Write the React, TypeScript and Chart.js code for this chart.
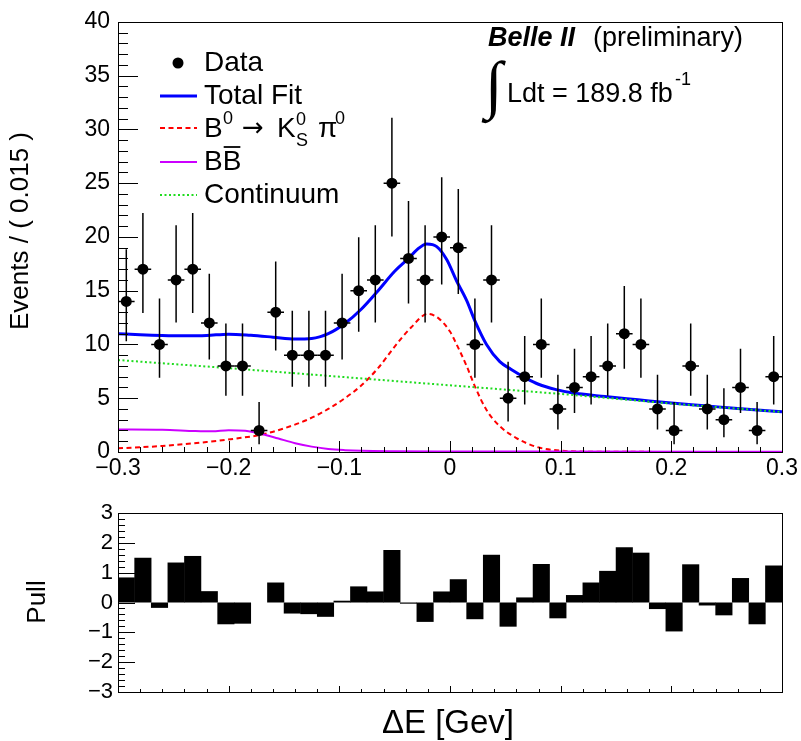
import React, { useEffect, useRef } from 'react';
import { Chart, registerables } from 'chart.js';

Chart.register(...registerables);

const FONT = "'Liberation Sans', Arial, Helvetica, sans-serif";

// ΔE bin centres [GeV], bin width 0.015
const binCenters = [
  -0.2925, -0.2775, -0.2625, -0.2475, -0.2325, -0.2175, -0.2025, -0.1875, -0.1725, -0.1575,
  -0.1425, -0.1275, -0.1125, -0.0975, -0.0825, -0.0675, -0.0525, -0.0375, -0.0225, -0.0075,
  0.0075, 0.0225, 0.0375, 0.0525, 0.0675, 0.0825, 0.0975, 0.1125, 0.1275, 0.1425,
  0.1575, 0.1725, 0.1875, 0.2025, 0.2175, 0.2325, 0.2475, 0.2625, 0.2775, 0.2925,
];
const BIN_WIDTH = 0.015;

// Events per bin
const dataCounts = [
  14, 17, 10, 16, 17, 12, 8, 8, 2, 13,
  9, 9, 9, 12, 15, 16, 25, 18, 16, 20,
  19, 10, 16, 5, 7, 10, 4, 6, 7, 8,
  11, 10, 4, 2, 8, 4, 3, 6, 2, 7,
];

// Pull per bin (null: outside the ±3 window)
const pullValues = [
  0.84, 1.5, -0.18, 1.34, 1.56, 0.38, -0.73, -0.71, null, 0.67,
  -0.37, -0.39, -0.48, 0.06, 0.54, 0.37, 1.76, -0.04, -0.65, 0.37,
  0.78, -0.56, 1.6, -0.81, 0.17, 1.29, -0.53, 0.25, 0.67, 1.06,
  1.85, 1.67, -0.22, -0.97, 1.28, -0.1, -0.43, 0.82, -0.73, 1.24,
];

// Fit components, sampled along ΔE
const totalFitX = [
  -0.3, -0.28, -0.26, -0.24, -0.22, -0.2, -0.18, -0.16, -0.14, -0.125, -0.11, -0.095,
  -0.08, -0.065, -0.05, -0.0375, -0.03, -0.021, -0.012, -0.003, 0.006, 0.015, 0.0225,
  0.033, 0.045, 0.055, 0.069, 0.08, 0.096, 0.11, 0.14, 0.17, 0.2, 0.23, 0.26, 0.3,
];
const totalFitY = [
  11.0, 10.9, 10.83, 10.8, 10.83, 10.96, 10.85, 10.68, 10.5, 10.55, 11.0, 11.95,
  13.3, 15.0, 16.8, 18.0, 18.8, 19.35, 19.1, 17.9, 15.9, 14.1, 12.2,
  10.0, 8.4, 7.7, 6.85, 6.3, 5.8, 5.5, 5.15, 4.85, 4.55, 4.3, 4.04, 3.75,
];

const signalX = [
  -0.3, -0.26, -0.22, -0.19, -0.17, -0.15, -0.13, -0.11, -0.095, -0.08, -0.065, -0.05, -0.035,
  -0.02, -0.01, 0, 0.006, 0.015, 0.0225, 0.033, 0.045, 0.06, 0.078, 0.1, 0.13, 0.3,
];
const signalY = [
  0.34, 0.56, 0.93, 1.3, 1.62, 2.2, 2.95, 4.0, 5.0, 6.2, 7.8, 9.8, 11.6,
  12.85, 12.4, 11.2, 10.0, 8.0, 6.1, 3.9, 2.4, 1.3, 0.48, 0.12, 0.03, 0.0,
];

const bbX = [
  -0.3, -0.26, -0.23, -0.215, -0.2, -0.185, -0.17, -0.155, -0.14, -0.125, -0.11, -0.095,
  -0.08, -0.05, 0, 0.1, 0.3,
];
const bbY = [
  2.1, 2.07, 1.95, 1.92, 2.03, 1.97, 1.68, 1.25, 0.82, 0.5, 0.28, 0.17,
  0.11, 0.07, 0.05, 0.04, 0.03,
];

const continuumX = [-0.3, -0.2, -0.1, 0, 0.1, 0.2, 0.3];
const continuumY = [8.55, 7.8, 7.0, 6.2, 5.4, 4.5, 3.72];

const BLUE = '#0000ff';
const RED = '#ff0000';
const VIOLET = '#cc00ff';
const GREEN = '#1fdc1f';

const toXY = (xs: number[], ys: (number | null)[]) => xs.map((x, i) => ({ x, y: ys[i] }));

// 68.3% Poisson interval (Garwood) in Gehrels' approximation
const poissonLow = (n: number) =>
  n <= 0 ? 0 : n * Math.pow(1 - 1 / (9 * n) - 1 / (3 * Math.sqrt(n)), 3);
const poissonHigh = (n: number) => n + Math.sqrt(n + 0.75) + 1;

const signedLabel = (digits: number) => (value: number | string) => {
  const v = Number(value);
  if (Math.abs(v) < 1e-9) return '0';
  const s = Math.abs(v).toFixed(digits);
  return v < 0 ? '\u2212' + s : s;
};

const errorBarPlugin = {
  id: 'poissonErrors',
  beforeDatasetDraw(chart: any, args: any) {
    if (chart.data.datasets[args.index].label !== 'Data') return;
    const { ctx, chartArea, scales } = chart;
    const xs = scales.x;
    const ys = scales.y;
    ctx.save();
    ctx.beginPath();
    ctx.rect(chartArea.left, chartArea.top, chartArea.right - chartArea.left, chartArea.bottom - chartArea.top);
    ctx.clip();
    ctx.strokeStyle = '#000';
    ctx.lineWidth = 1.5;
    binCenters.forEach((c, i) => {
      const n = dataCounts[i];
      const px = xs.getPixelForValue(c);
      const py = ys.getPixelForValue(n);
      ctx.beginPath();
      ctx.moveTo(px, ys.getPixelForValue(poissonLow(n)));
      ctx.lineTo(px, ys.getPixelForValue(poissonHigh(n)));
      ctx.moveTo(xs.getPixelForValue(c - BIN_WIDTH / 2), py);
      ctx.lineTo(xs.getPixelForValue(c + BIN_WIDTH / 2), py);
      ctx.stroke();
    });
    ctx.restore();
  },
};

type TickCfg = {
  yMin: number; ySteps: number; yStep: number; yMajorEvery: number; yMajorLen: number; yMinorLen: number;
  xMin: number; xSteps: number; xStep: number; xMajorEvery: number; xMajorLen: number; xMinorLen: number;
};

// frame box with ticks pointing into the plotting area
const makeFramePlugin = (cfg: TickCfg) => ({
  id: 'innerFrame',
  afterDatasetsDraw(chart: any) {
    const { ctx, chartArea, scales } = chart;
    const { left, right, top, bottom } = chartArea;
    ctx.save();
    ctx.strokeStyle = '#000';
    ctx.lineWidth = 1;
    ctx.beginPath();
    for (let k = 0; k <= cfg.ySteps; k++) {
      const y = Math.round(scales.y.getPixelForValue(cfg.yMin + k * cfg.yStep)) + 0.5;
      const len = k % cfg.yMajorEvery === 0 ? cfg.yMajorLen : cfg.yMinorLen;
      ctx.moveTo(left, y);
      ctx.lineTo(left + len, y);
    }
    for (let k = 0; k <= cfg.xSteps; k++) {
      const x = Math.round(scales.x.getPixelForValue(cfg.xMin + k * cfg.xStep)) + 0.5;
      const len = k % cfg.xMajorEvery === 0 ? cfg.xMajorLen : cfg.xMinorLen;
      ctx.moveTo(x, bottom);
      ctx.lineTo(x, bottom - len);
    }
    ctx.stroke();
    ctx.strokeRect(Math.round(left) + 0.5, Math.round(top) + 0.5, Math.round(right - left), Math.round(bottom - top));
    ctx.restore();
  },
});

const topTextPlugin = {
  id: 'topText',
  afterDraw(chart: any) {
    const ctx: CanvasRenderingContext2D = chart.ctx;
    ctx.save();
    ctx.fillStyle = '#000';
    ctx.textBaseline = 'alphabetic';
    ctx.textAlign = 'left';

    // axis title
    ctx.save();
    ctx.translate(21, 231);
    ctx.rotate(-Math.PI / 2);
    ctx.textAlign = 'center';
    ctx.textBaseline = 'middle';
    ctx.font = `26px ${FONT}`;
    ctx.fillText('Events / ( 0.015 )', 0, 0);
    ctx.restore();

    // legend
    const tx = 204;
    const lx0 = 160;
    const lx1 = 197;
    const big = `28px ${FONT}`;
    const small = `18px ${FONT}`;
    ctx.font = big;

    ctx.beginPath();
    ctx.arc(178, 63, 5.5, 0, Math.PI * 2);
    ctx.fill();
    ctx.fillText('Data', tx, 71);

    const legendLine = (y: number, color: string, width: number, dash: number[]) => {
      ctx.save();
      ctx.strokeStyle = color;
      ctx.lineWidth = width;
      ctx.setLineDash(dash);
      ctx.beginPath();
      ctx.moveTo(lx0, y);
      ctx.lineTo(lx1, y);
      ctx.stroke();
      ctx.restore();
    };

    legendLine(96, BLUE, 3, []);
    ctx.fillText('Total Fit', tx, 104);

    legendLine(128, RED, 2, [5, 3.5]);
    ctx.fillText('B', tx, 137);
    ctx.font = small;
    ctx.fillText('0', tx + 19, 124);
    ctx.font = `26px 'DejaVu Sans', ${FONT}`;
    ctx.fillText('\u2192', tx + 38, 136);
    ctx.font = big;
    ctx.fillText('K', tx + 73, 137);
    ctx.font = small;
    ctx.fillText('0', tx + 92, 125);
    ctx.fillText('S', tx + 92, 146);
    ctx.font = big;
    ctx.fillText('\u03c0', tx + 114, 137);
    ctx.font = small;
    ctx.fillText('0', tx + 131, 124);
    ctx.font = big;

    legendLine(162, VIOLET, 2, []);
    ctx.fillText('B', tx, 170);
    const bw = ctx.measureText('B').width;
    ctx.fillText('B', tx + bw, 170);
    ctx.save();
    ctx.lineWidth = 1.8;
    ctx.strokeStyle = '#000';
    ctx.beginPath();
    ctx.moveTo(tx + bw + 1, 147);
    ctx.lineTo(tx + 2 * bw - 1, 147);
    ctx.stroke();
    ctx.restore();

    legendLine(195, GREEN, 2, [2, 2.5]);
    ctx.fillText('Continuum', tx, 203);

    // experiment label
    ctx.font = `italic bold 27px ${FONT}`;
    ctx.fillText('Belle II', 488, 46);
    ctx.font = `27px ${FONT}`;
    ctx.fillText('(preliminary)', 593, 46);

    ctx.font = `64px 'Liberation Serif', serif`;
    ctx.fillText('\u222b', 485, 106);
    ctx.font = `27px ${FONT}`;
    const lum = 'Ldt = 189.8 fb';
    ctx.fillText(lum, 507, 102);
    const lw = ctx.measureText(lum).width;
    ctx.font = small;
    ctx.fillText('-1', 507 + lw + 2, 85);

    ctx.restore();
  },
};

const bottomTextPlugin = {
  id: 'bottomText',
  afterDraw(chart: any) {
    const ctx: CanvasRenderingContext2D = chart.ctx;
    ctx.save();
    ctx.fillStyle = '#000';
    ctx.save();
    ctx.translate(38, 122);
    ctx.rotate(-Math.PI / 2);
    ctx.textAlign = 'center';
    ctx.textBaseline = 'middle';
    ctx.font = `26px ${FONT}`;
    ctx.fillText('Pull', 0, 0);
    ctx.restore();
    ctx.textAlign = 'center';
    ctx.textBaseline = 'alphabetic';
    ctx.font = `33px ${FONT}`;
    ctx.fillText('\u0394E [Gev]', 448, 253);
    ctx.restore();
  },
};

export default function App() {
  const topRef = useRef<HTMLCanvasElement>(null);
  const bottomRef = useRef<HTMLCanvasElement>(null);

  useEffect(() => {
    document.body.style.margin = '0';
    const lineBase = { pointRadius: 0, fill: false, cubicInterpolationMode: 'monotone' as const };

    const topChart = new Chart(topRef.current as HTMLCanvasElement, {
      type: 'scatter',
      data: {
        datasets: [
          {
            type: 'scatter',
            label: 'Data',
            data: toXY(binCenters, dataCounts),
            pointRadius: 5.5,
            pointBackgroundColor: '#000',
            pointBorderWidth: 0,
            order: 1,
          },
          {
            type: 'line',
            label: 'Continuum',
            data: toXY(continuumX, continuumY),
            borderColor: GREEN,
            borderWidth: 2,
            borderDash: [2, 2.5],
            tension: 0,
            pointRadius: 0,
            order: 2,
          },
          {
            type: 'line',
            label: 'BB',
            data: toXY(bbX, bbY),
            borderColor: VIOLET,
            borderWidth: 2,
            ...lineBase,
            order: 3,
          },
          {
            type: 'line',
            label: 'Signal',
            data: toXY(signalX, signalY),
            borderColor: RED,
            borderWidth: 2,
            borderDash: [5, 3.5],
            ...lineBase,
            order: 4,
          },
          {
            type: 'line',
            label: 'Total Fit',
            data: toXY(totalFitX, totalFitY),
            borderColor: BLUE,
            borderWidth: 3,
            ...lineBase,
            order: 5,
          },
        ],
      } as any,
      options: {
        animation: false,
        responsive: false,
        devicePixelRatio: 1,
        events: [],
        layout: { padding: { left: 0, top: 20, right: 19, bottom: 0 } },
        plugins: { legend: { display: false }, tooltip: { enabled: false } },
        scales: {
          x: {
            type: 'linear',
            min: -0.3,
            max: 0.3,
            grid: { display: false, drawTicks: false },
            border: { display: false },
            ticks: {
              stepSize: 0.1,
              autoSkip: false,
              maxRotation: 0,
              padding: 3,
              color: '#000',
              font: { family: FONT, size: 23 },
              callback: signedLabel(1),
            },
            afterFit: (s: any) => { s.height = 28; },
          },
          y: {
            type: 'linear',
            min: 0,
            max: 40,
            grid: { display: false, drawTicks: false },
            border: { display: false },
            ticks: {
              stepSize: 5,
              padding: 8,
              color: '#000',
              font: { family: FONT, size: 23 },
            },
            afterFit: (s: any) => { s.width = 118; },
          },
        },
      } as any,
      plugins: [
        errorBarPlugin,
        makeFramePlugin({
          yMin: 0, ySteps: 40, yStep: 1, yMajorEvery: 5, yMajorLen: 20, yMinorLen: 10,
          xMin: -0.3, xSteps: 30, xStep: 0.02, xMajorEvery: 5, xMajorLen: 11, xMinorLen: 5,
        }),
        topTextPlugin,
      ],
    });

    const bottomChart = new Chart(bottomRef.current as HTMLCanvasElement, {
      type: 'bar',
      data: {
        datasets: [
          {
            label: 'Pull',
            data: toXY(binCenters, pullValues),
            backgroundColor: '#000',
            borderWidth: 0,
            barPercentage: 1.03,
            categoryPercentage: 1,
            grouped: false,
          },
        ],
      } as any,
      options: {
        animation: false,
        responsive: false,
        devicePixelRatio: 1,
        events: [],
        layout: { padding: { left: 0, top: 33, right: 19, bottom: 0 } },
        plugins: { legend: { display: false }, tooltip: { enabled: false } },
        scales: {
          x: {
            type: 'linear',
            min: -0.3,
            max: 0.3,
            offset: false,
            grid: { display: false, drawTicks: false, offset: false },
            border: { display: false },
            ticks: { display: false, stepSize: 0.1 },
            afterFit: (s: any) => { s.height = 49; },
          },
          y: {
            type: 'linear',
            min: -3,
            max: 3,
            grid: { display: false, drawTicks: false },
            border: { display: false },
            ticks: {
              stepSize: 1,
              padding: 5,
              color: '#000',
              font: { family: FONT, size: 22 },
              callback: signedLabel(0),
            },
            afterFit: (s: any) => { s.width = 118; },
          },
        },
      } as any,
      plugins: [
        makeFramePlugin({
          yMin: -3, ySteps: 30, yStep: 0.2, yMajorEvery: 5, yMajorLen: 17, yMinorLen: 7,
          xMin: -0.3, xSteps: 30, xStep: 0.02, xMajorEvery: 5, xMajorLen: 6, xMinorLen: 3,
        }),
        bottomTextPlugin,
      ],
    });

    return () => {
      topChart.destroy();
      bottomChart.destroy();
    };
  }, []);

  return (
    <div style={{ position: 'absolute', left: 0, top: 0, width: 801, height: 741, background: '#fff' }}>
      <canvas
        ref={topRef}
        width={801}
        height={480}
        style={{ position: 'absolute', left: 0, top: 0, width: 801, height: 480 }}
      />
      <canvas
        ref={bottomRef}
        width={801}
        height={261}
        style={{ position: 'absolute', left: 0, top: 480, width: 801, height: 261 }}
      />
    </div>
  );
}
